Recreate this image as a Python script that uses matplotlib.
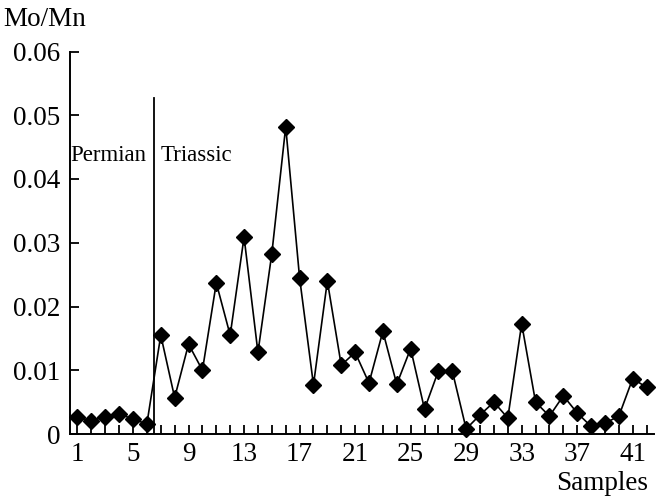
import matplotlib
matplotlib.use("Agg")
import matplotlib.pyplot as plt
from matplotlib.ticker import FixedLocator

samples = list(range(1, 43))
mo_mn = [0.0026, 0.0021, 0.0027, 0.0032, 0.0023, 0.0016,
         0.0155, 0.0057, 0.0141, 0.0100, 0.0237, 0.0155,
         0.0309, 0.0128, 0.0283, 0.0482, 0.0245, 0.0077,
         0.0240, 0.0108, 0.0128, 0.0080, 0.0161, 0.0078,
         0.0134, 0.0039, 0.0099, 0.0099, 0.0008, 0.0030,
         0.0050, 0.0025, 0.0173, 0.0050, 0.0028, 0.0060,
         0.0033, 0.0012, 0.0017, 0.0028, 0.0087, 0.0073]
x_tick_labels = [1, 5, 9, 13, 17, 21, 25, 29, 33, 37, 41]
y_ticks = [0, 0.01, 0.02, 0.03, 0.04, 0.05, 0.06]
y_tick_labels = ["0", "0.01", "0.02", "0.03", "0.04", "0.05", "0.06"]
boundary_x = 6.5
boundary_top = 0.0527

plt.rcParams['font.family'] = ['Liberation Serif', 'DejaVu Serif']

W, H = 659, 497
fig = plt.figure(figsize=(W / 100, H / 100), dpi=100)
left, right, bottom, top = 70, 654, 434, 51.5
ax = fig.add_axes([left / W, 1 - bottom / H, (right - left) / W, (bottom - top) / H])

ax.plot(samples, mo_mn, color='black', lw=1.2, marker='D', ms=8,
        mfc='black', mec='black', clip_on=False, zorder=3)
ax.plot([boundary_x, boundary_x], [0, boundary_top], color='black', lw=1.3)

ax.set_ylim(0, 0.06)
ax.set_xlim(1 - 7.5 / 13.9, 1 + (654 - 76.7) / 13.9)

for s in ['top', 'right']:
    ax.spines[s].set_visible(False)
for s in ['left', 'bottom']:
    ax.spines[s].set_linewidth(1.4)

ax.set_yticks(y_ticks)
ax.set_yticklabels(y_tick_labels)
ax.xaxis.set_major_locator(FixedLocator(x_tick_labels))
ax.set_xticklabels([str(v) for v in x_tick_labels])
ax.xaxis.set_minor_locator(FixedLocator(samples))

ax.tick_params(axis='both', which='both', direction='in', width=1.3, length=6.5,
               labelsize=19.5, colors='black')
ax.tick_params(axis='y', pad=7)
ax.tick_params(axis='x', pad=6)

ax.text(0.5, 0.0437, 'Permian', fontsize=16.5, va='center', ha='left')
ax.text(7.0, 0.0437, 'Triassic', fontsize=16.5, va='center', ha='left')

fig.text(3 / W, 1 - 20 / H, 'Mo/Mn', fontsize=19.5, ha='left', va='center')
fig.text(648 / W, 1 - 484 / H, 'Samples', fontsize=19.5, ha='right', va='center')

fig.savefig('out.png', dpi=100)
